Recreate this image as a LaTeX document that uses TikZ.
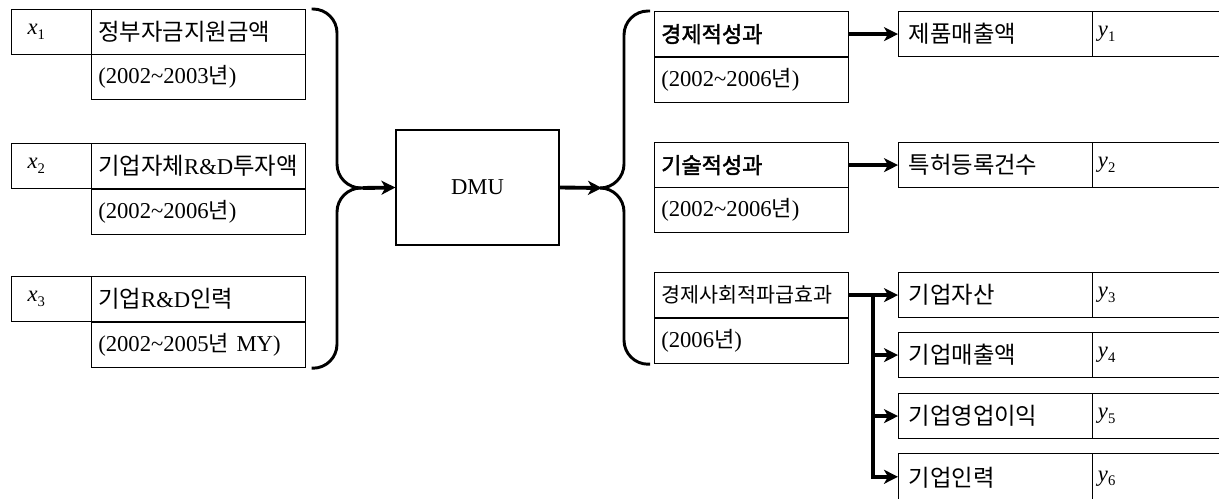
\documentclass[tikz,border=0pt]{standalone}
\usepackage{fontspec}
\setmainfont{Liberation Serif}
\newfontfamily\kr{Noto Sans CJK KR}
\newfontfamily\krb[FakeBold=2]{Noto Sans CJK KR}
\usetikzlibrary{arrows.meta}
\newcommand\vv[2]{\textit{#1}\raisebox{-0.45ex}{\fontsize{11}{11}\selectfont #2}}
\newcommand\tl{\textasciitilde}
\newcommand\K{\kr\fontsize{17.5}{20}\selectfont}
\newcommand\Y{{\kr\fontsize{16.5}{20}\selectfont 년}}
\begin{document}
\begin{tikzpicture}[x=0.75pt,y=-0.75pt,
  cell/.style={draw, line width=0.9pt, anchor=north west, inner ysep=0pt, align=left,
    minimum height=33.75pt, font=\fontsize{17}{20}\selectfont},
  lab/.style={cell, inner xsep=12pt, text width=36pt, minimum width=60pt},
  txt/.style={cell, inner xsep=5pt, text width=150.5pt, minimum width=160.5pt},
  ecell/.style={cell, inner xsep=5pt, text width=135.5pt, minimum width=145.5pt},
  ocell/.style={cell, inner xsep=7.5pt, text width=130.5pt, minimum width=145.5pt},
  ylab/.style={cell, inner xsep=4pt, text width=103pt, minimum width=111pt},
  brace/.style={line width=2.2pt, rounded corners=18pt},
  arr/.style={line width=2.9pt, -{Stealth[length=10.5pt,width=10.5pt,inset=3pt]}}
]
\useasboundingbox (0,0) rectangle (1219,499);
% inputs
\node[lab] (x1l) at (11,9) {\vv{x}{1}};
\node[txt] (x1t) at (91,9) {\K 정부자금지원금액};
\node[txt] (x1p) at (91,54) {(2002\tl2003\Y)};
\node[lab] (x2l) at (11,143) {\vv{x}{2}};
\node[txt] (x2t) at (91,143) {{\K 기업자체}R\&D{\K 투자액}};
\node[txt] (x2p) at (91,189) {(2002\tl2006\Y)};
\node[lab] (x3l) at (11,276) {\vv{x}{3}};
\node[txt] (x3t) at (91,276) {{\K 기업}R\&D{\K 인력}};
\node[txt] (x3p) at (91,322) {(2002\tl2005\Y{} MY)};
% DMU
\node[draw, line width=0.9pt, minimum width=122.25pt, minimum height=86.25pt, font=\fontsize{17}{20}\selectfont] (dmu) at (477.5,187.5) {DMU};
% outcome groups
\node[ecell] (e1t) at (654,11) {\krb\fontsize{16.5}{20}\selectfont 경제적성과};
\node[ecell] (e1p) at (654,57) {(2002\tl2006\Y)};
\node[ecell] (e2t) at (654,142) {\krb\fontsize{16.5}{20}\selectfont 기술적성과};
\node[ecell] (e2p) at (654,187) {(2002\tl2006\Y)};
\node[ecell] (e3t) at (654,272) {\kr\fontsize{15.5}{18}\selectfont 경제사회적파급효과};
\node[ecell] (e3p) at (654,318) {(2006\Y)};
% outputs
\node[ocell] (o1t) at (898,11) {\K 제품매출액};
\node[ylab] (o1l) at (1092,11) {\vv{y}{1}};
\node[ocell] (o2t) at (898,142) {\K 특허등록건수};
\node[ylab] (o2l) at (1092,142) {\vv{y}{2}};
\node[ocell] (o3t) at (898,272) {\K 기업자산};
\node[ylab] (o3l) at (1092,272) {\vv{y}{3}};
\node[ocell] (o4t) at (898,332) {\K 기업매출액};
\node[ylab] (o4l) at (1092,332) {\vv{y}{4}};
\node[ocell] (o5t) at (898,393) {\K 기업영업이익};
\node[ylab] (o5l) at (1092,393) {\vv{y}{5}};
\node[ocell, minimum height=37pt] (o6t) at (898,453) {\K 기업인력};
\node[ylab, minimum height=37pt] (o6l) at (1092,453) {\vv{y}{6}};
% left brace
\coordinate (lj) at (363,188);
\coordinate (lm) at (337,188);
\draw[brace] ([xshift=4pt]x1t.north east) -| (lm) -- (lj);
\draw[brace] (lj) -- (lm) |- ([xshift=4pt]x3p.south east);
\draw[arr] (lj) -- (dmu.west);
% right brace
\coordinate (rj) at (602,188);
\coordinate (rm) at (624,188);
\draw[arr] (dmu.east) -- (rj);
\draw[brace] (rj) -- (rm) |- ([xshift=-3pt]e1t.north west);
\draw[brace] (rj) -- (rm) |- ([xshift=-3pt]e3p.south west);
% output arrows
\draw[arr] (e1t.east) -- (o1t.west);
\draw[arr] (e2t.east) -- (o2t.west);
\draw[arr] (e3t.east) -- (o3t.west);
\coordinate (bx) at (873,295);
\draw[arr] (bx) |- (o4t.west);
\draw[arr] (bx) |- (o5t.west);
\draw[arr] (bx) |- ([yshift=1.1pt]o6t.west);
\end{tikzpicture}
\end{document}
